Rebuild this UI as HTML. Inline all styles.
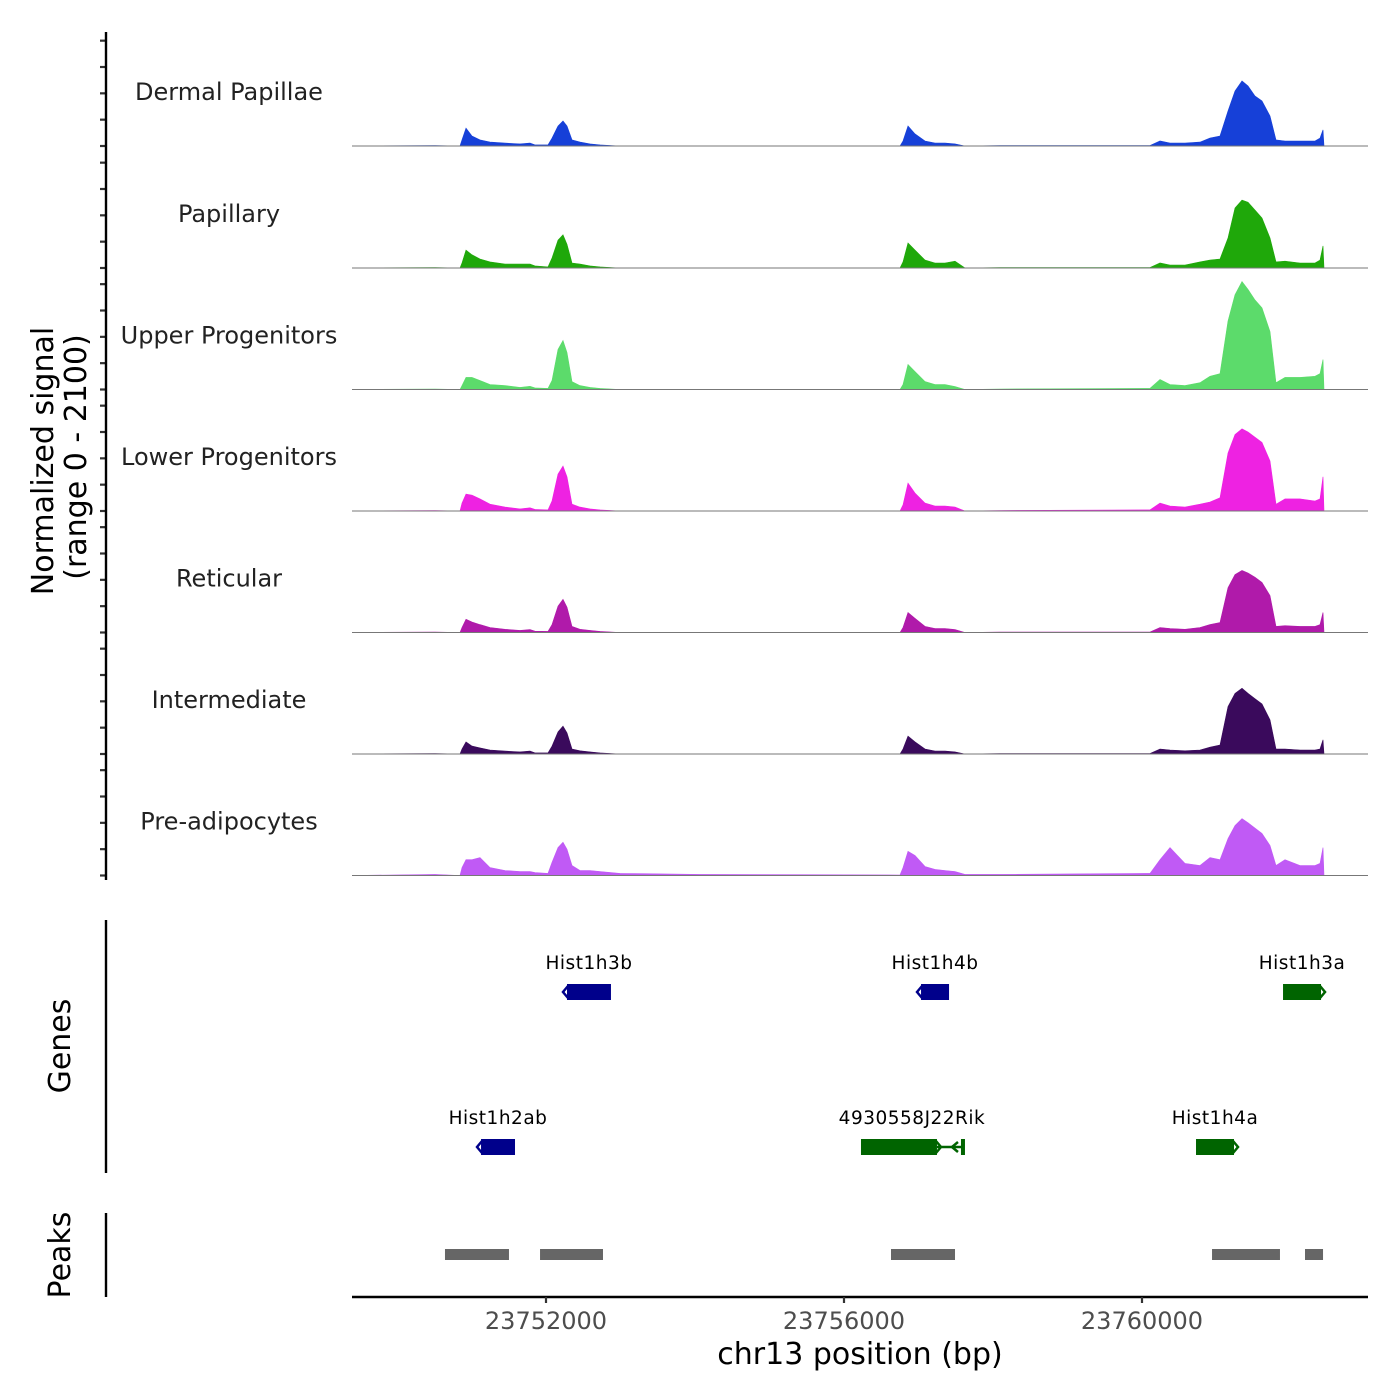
<!DOCTYPE html>
<html><head><meta charset="utf-8"><style>
html,body{margin:0;padding:0;background:#fff;}
svg{display:block;font-family:"DejaVu Sans","Liberation Sans",sans-serif;}
</style></head><body>
<svg id="chart" width="1400" height="1400" viewBox="0 0 1400 1400" xmlns="http://www.w3.org/2000/svg">
<rect width="1400" height="1400" fill="#fff"/>
<g id="tracks"></g>
<g id="genes"></g>
<g id="peaks"></g>
<g id="axes"></g>
<text transform="translate(53,461) rotate(-90)" text-anchor="middle" font-size="30" fill="#000">Normalized signal</text>
<text transform="translate(86,457) rotate(-90)" text-anchor="middle" font-size="30" fill="#000">(range 0 - 2100)</text>
<text transform="translate(70,1046) rotate(-90)" text-anchor="middle" font-size="30" fill="#000">Genes</text>
<text transform="translate(70,1255) rotate(-90)" text-anchor="middle" font-size="30" fill="#000">Peaks</text>
<text x="860" y="1364" text-anchor="middle" font-size="30" fill="#000">chr13 position (bp)</text>
</svg>
<script>
const positions = [23749396,23750510,23750846,23750873,23750926,23751007,23751114,23751248,23751450,23751651,23751785,23751852,23752027,23752081,23752161,23752228,23752282,23752349,23752456,23752591,23752725,23752993,23754067,23756752,23756792,23756859,23756953,23757087,23757222,23757356,23757490,23757624,23758094,23760107,23760242,23760376,23760577,23760779,23760913,23761047,23761154,23761248,23761342,23761423,23761517,23761611,23761718,23761799,23761919,23762121,23762322,23762389,23762430,23762443];
const trackNames = ["Dermal Papillae","Papillary","Upper Progenitors","Lower Progenitors","Reticular","Intermediate","Pre-adipocytes"];
const trackColors = ["#1640d8","#1fa80a","#5cdb6b","#ee22e2","#b01aaa","#3a0a5c","#c05af5"];
const dermalPapillae = [0,10,0,115,340,190,115,75,55,40,55,20,20,150,380,475,380,115,75,40,20,0,0,0,95,380,230,95,55,55,40,0,10,10,95,55,55,75,150,190,665,1045,1235,1140,950,855,570,115,95,95,95,150,305,0];
const papillary = [0,10,0,95,340,250,170,115,75,75,75,40,20,190,530,630,450,95,75,40,20,0,0,0,115,475,340,150,95,95,130,0,10,10,95,55,55,115,150,170,570,1140,1290,1250,1100,950,570,115,130,95,95,150,420,0];
const upperProgenitors = [0,10,0,75,230,230,170,95,75,40,60,30,20,170,760,930,700,150,75,40,20,0,0,0,95,475,340,150,95,95,55,0,10,20,190,95,75,130,250,300,1300,1800,2050,1900,1700,1550,1100,130,230,230,250,300,570,0];
const lowerProgenitors = [0,10,0,150,320,300,230,130,75,40,60,30,20,190,700,855,650,130,75,40,20,0,0,0,115,530,340,150,95,95,75,0,10,20,150,95,75,130,170,250,1100,1450,1560,1500,1400,1300,950,130,230,230,190,230,650,0];
const reticular = [0,10,0,95,250,200,150,95,60,40,55,25,20,150,500,630,480,115,60,40,20,0,0,0,95,380,270,115,75,75,55,0,10,10,95,75,60,95,150,190,850,1100,1180,1130,1050,950,700,115,130,115,115,150,380,0];
const intermediate = [0,10,0,95,230,150,115,75,55,40,55,20,20,150,420,530,400,95,60,40,20,0,0,0,95,340,230,95,55,55,40,0,10,10,95,75,60,75,130,170,900,1150,1250,1150,1050,950,650,95,95,75,75,95,270,0];
const preAdipocytes = [0,20,0,150,300,300,340,150,95,75,75,55,40,250,530,630,500,190,95,95,75,40,20,10,150,460,380,170,115,95,75,20,20,40,300,530,230,190,340,300,700,950,1080,1000,900,800,570,190,300,190,190,230,530,0];
const trackValues = [dermalPapillae,papillary,upperProgenitors,lowerProgenitors,reticular,intermediate,preAdipocytes];
const xTicks = [23752000,23756000,23760000];
const xTickLabels = ["23752000","23756000","23760000"];
const yTicks = [0,500,1000,1500,2000];
const geneNames = ["Hist1h3b","Hist1h4b","Hist1h3a","Hist1h2ab","4930558J22Rik","Hist1h4a"];
const geneStarts = [23752282,23757034,23761893,23751128,23756228,23760725];
const geneEnds = [23752872,23757410,23762403,23751584,23757248,23761235];
const geneTxEnds = [23752872,23757410,23762403,23751584,23757597,23761235];
const geneStrands = [-1,-1,1,-1,1,1];
const geneRows = [0,0,0,1,1,1];
const peakStarts = [23750644,23751920,23756631,23760940,23762188];
const peakEnds = [23751503,23752765,23757490,23761852,23762430];

const NS="http://www.w3.org/2000/svg";
const X0=352,X1=1368,BP0=23749396,PXPB=0.0745;
function xs(bp){return X0+(bp-BP0)*PXPB;}
const YMAX=2100,TH=110.6;
const baselines=[146,268,389.5,511,632.5,754,875.5];
function el(tag,attrs,parent){const e=document.createElementNS(NS,tag);for(const k in attrs)e.setAttribute(k,attrs[k]);parent.appendChild(e);return e;}
const tracks=document.getElementById('tracks');
const axes=document.getElementById('axes');
trackValues.forEach((vals,t)=>{
  const b=baselines[t];
  const ys=v=>b-v/YMAX*TH;
  let d='M'+xs(positions[0]).toFixed(1)+','+b;
  vals.forEach((v,i)=>{d+=' L'+xs(positions[i]).toFixed(1)+','+ys(v).toFixed(1);});
  d+=' L'+xs(positions[positions.length-1]).toFixed(1)+','+b+' Z';
  const p=el('path',{d:d,fill:trackColors[t],stroke:trackColors[t],'stroke-width':0.6},tracks);
  
  
  const ln=el('line',{x1:X0,x2:X1,y1:b,y2:b,stroke:'#777','stroke-width':1},tracks);
  
  
  const tx=el('text',{x:229,y:b-46,'text-anchor':'middle','font-size':24,fill:'#222'},tracks);
  tx.textContent=trackNames[t];
  
  
  yTicks.forEach(v=>{
    const tk=el('line',{x1:100,x2:106,y1:ys(v),y2:ys(v),stroke:'#333','stroke-width':2.2},axes);
    
    
  });
});
[[32,880],[920,1173],[1213,1297]].forEach(r=>{
  const l=el('line',{x1:106,x2:106,y1:r[0],y2:r[1],stroke:'#000','stroke-width':2.4},axes);
  
  
});
const xl=el('line',{x1:X0,x2:X1,y1:1297,y2:1297,stroke:'#000','stroke-width':2.4},axes);


xTicks.forEach((v,i)=>{
  const tk=el('line',{x1:xs(v),x2:xs(v),y1:1297,y2:1303,stroke:'#333','stroke-width':2.2},axes);
  
  
  const tl=el('text',{x:xs(v),y:1329,'text-anchor':'middle','font-size':24,fill:'#4d4d4d'},axes);
  tl.textContent=xTickLabels[i];
  
  
});
const genes=document.getElementById('genes');
const rowY=[992,1147];
geneNames.forEach((n,i)=>{
  const y=rowY[geneRows[i]];
  const col=geneStrands[i]<0?'#00008b':'#006400';
  const a=xs(geneStarts[i]),b=xs(geneEnds[i]),c=xs(geneTxEnds[i]);
  if(c>b+1){
    const ln=el('line',{x1:b,x2:c,y1:y,y2:y,stroke:col,'stroke-width':2.5},genes);
    
    
    const e2=el('line',{x1:c,x2:c,y1:y-8,y2:y+8,stroke:col,'stroke-width':4},genes);
    
    
    const ar=el('path',{d:`M${c-5},${y-5} L${c-11},${y} L${c-5},${y+5}`,stroke:col,'stroke-width':2.5,fill:'none'},genes);
    
    
  }
  const r=el('rect',{x:a,y:y-8,width:b-a,height:16,fill:col},genes);
  
  
  const ax=geneStrands[i]<0?a:b, dir=geneStrands[i]<0?-1:1;
  const ch=el('path',{d:`M${ax-dir*1},${y-6} L${ax+dir*4},${y} L${ax-dir*1},${y+6}`,stroke:col,'stroke-width':2.5,fill:'none'},genes);
  
  
  const t=el('text',{x:(a+c)/2,y:y-23,'text-anchor':'middle','font-size':18.5,fill:'#000','letter-spacing':'0.5'},genes);
  t.textContent=n;
  
  
});
const peaks=document.getElementById('peaks');
peakStarts.forEach((s,i)=>{
  const r=el('rect',{x:xs(s),y:1249,width:xs(peakEnds[i])-xs(s),height:11,fill:'#666'},peaks);
  
  
});
</script>
</body></html>
